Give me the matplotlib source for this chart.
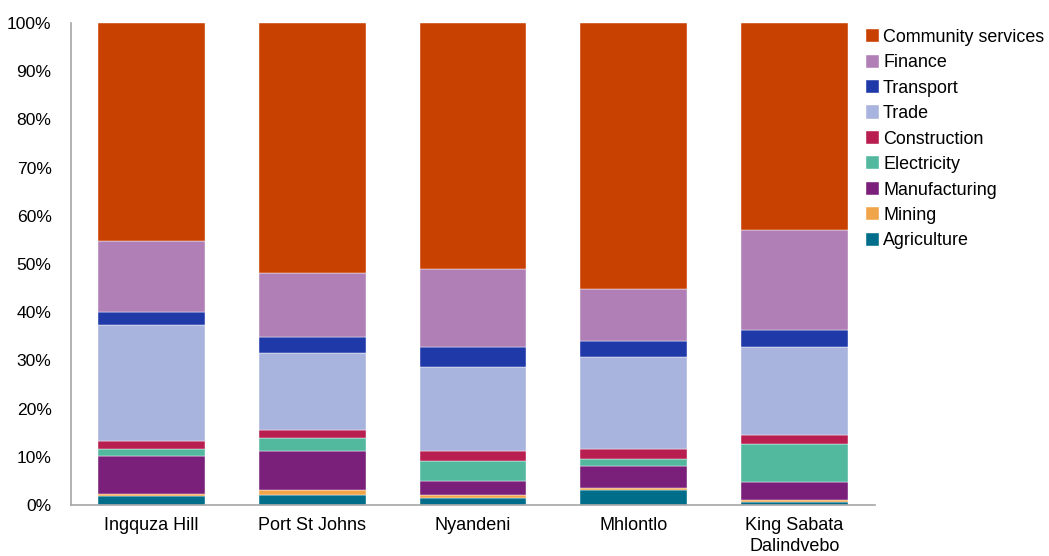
import matplotlib
matplotlib.use('Agg')
import matplotlib.pyplot as plt
import numpy as np

plt.rcParams['font.family'] = ['Liberation Sans', 'DejaVu Sans']

municipalities = ['Ingquza Hill', 'Port St Johns', 'Nyandeni', 'Mhlontlo', 'King Sabata\nDalindvebo']

# sector shares (% of total), bottom to top
sectors = ['Agriculture', 'Mining', 'Manufacturing', 'Electricity', 'Construction',
           'Trade', 'Transport', 'Finance', 'Community services']
agriculture = [1.9, 2.1, 1.5, 3.1, 0.7]
mining = [0.4, 1.0, 0.5, 0.4, 0.3]
manufacturing = [7.9, 8.0, 3.0, 4.6, 3.8]
electricity = [1.4, 2.8, 4.1, 1.4, 7.9]
construction = [1.6, 1.7, 2.1, 2.1, 1.8]
trade = [24.1, 15.9, 17.5, 19.1, 18.3]
transport = [2.8, 3.3, 4.1, 3.3, 3.5]
finance = [14.7, 13.4, 16.2, 10.8, 20.7]
community = [45.2, 51.8, 51.0, 55.2, 43.0]

colors = ['#006E8A', '#F0A54A', '#7A1F7A', '#52B89E', '#B81E50',
          '#A8B4DE', '#1F3AA8', '#B07FB5', '#C84100']

values = [agriculture, mining, manufacturing, electricity, construction,
          trade, transport, finance, community]

fig = plt.figure(figsize=(10.49, 5.56), dpi=100)
ax = fig.add_axes([71 / 1049, 51 / 556, (875 - 71) / 1049, (505 - 23) / 556])

x = np.arange(len(municipalities))
bottom = np.zeros(len(municipalities))
handles = []
for name, vals, c in zip(sectors, values, colors):
    v = np.array(vals)
    b = ax.bar(x, v, bottom=bottom, width=0.665, color=c, label=name,
               edgecolor='white', linewidth=0.3)
    handles.append(b)
    bottom += v

ax.set_xlim(-0.5, 4.5)
ax.set_ylim(0, 100)
ax.set_yticks(np.arange(0, 101, 10))
ax.set_yticklabels([f'{t}%' for t in range(0, 101, 10)], fontsize=12.6)
ax.set_xticks(x)
ax.set_xticklabels(municipalities, linespacing=1.3, fontsize=13)
ax.tick_params(length=0, colors='#000000')
ax.tick_params(axis='y', pad=14)
ax.tick_params(axis='x', pad=9)

for s in ['top', 'right']:
    ax.spines[s].set_visible(False)
ax.spines['left'].set_color('#A6A6A6')
ax.spines['bottom'].set_color('#A6A6A6')
ax.spines['left'].set_linewidth(1.2)
ax.spines['bottom'].set_linewidth(1.2)

leg = fig.legend(handles[::-1], sectors[::-1], loc='upper left',
                 bbox_to_anchor=(866 / 1049, 1 - 29 / 556), frameon=False,
                 fontsize=12.9, handlelength=0.75, handleheight=0.75,
                 handletextpad=0.2, labelspacing=0.47, borderaxespad=0,
                 borderpad=0)

fig.savefig('out.png', dpi=100)
